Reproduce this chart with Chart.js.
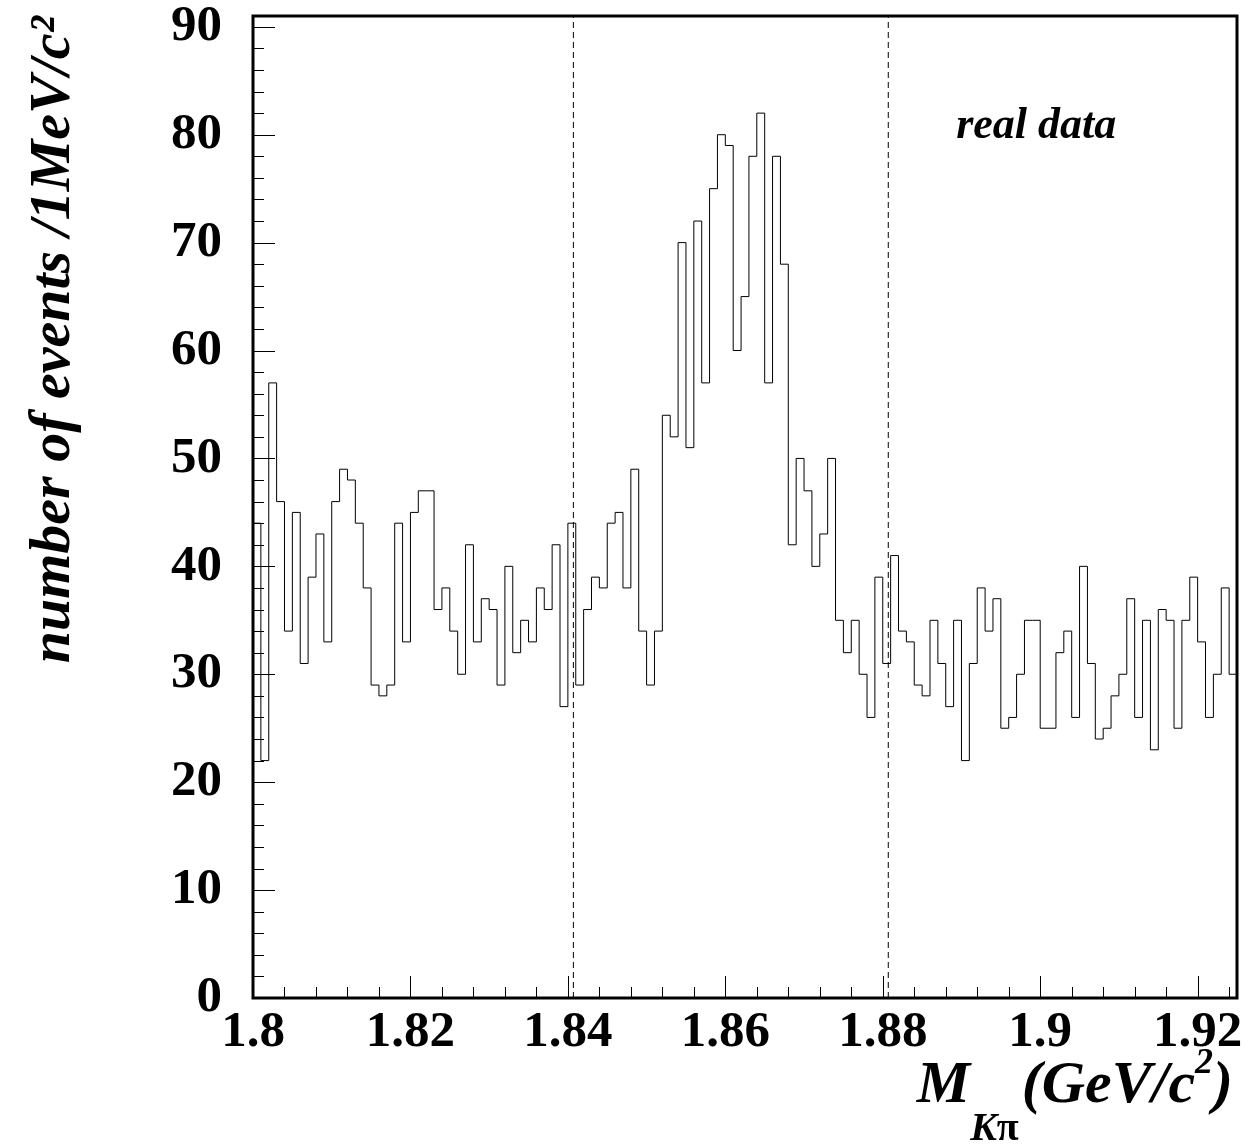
<!DOCTYPE html>
<html>
<head>
<meta charset="utf-8">
<script src="https://cdn.jsdelivr.net/npm/chart.js@4.4.0/dist/chart.umd.min.js"></script>
<style>
  body { margin: 0; background: #fff; }
</style>
</head>
<body>
<canvas id="histo" width="1257" height="1146"></canvas>
<script>
// M(K pi) histogram, 1 MeV bins starting at 1.800 GeV
var binLow = 1.8;
var binWidth = 0.001;
var counts = [
  44, 22, 57, 46, 34, 45, 31, 39, 43, 33,
  46, 49, 48, 44, 38, 29, 28, 29, 44, 33,
  45, 47, 47, 36, 38, 34, 30, 42, 33, 37,
  36, 29, 40, 32, 35, 33, 38, 36, 42, 27,
  44, 29, 36, 39, 38, 44, 45, 38, 49, 34,
  29, 34, 54, 52, 70, 51, 72, 57, 75, 80,
  79, 60, 65, 78, 82, 57, 78, 68, 42, 50,
  47, 40, 43, 50, 35, 32, 35, 30, 26, 39,
  31, 41, 34, 33, 29, 28, 35, 31, 27, 35,
  22, 31, 38, 34, 37, 25, 26, 30, 35, 35,
  25, 25, 32, 34, 26, 40, 31, 24, 25, 28,
  30, 37, 26, 35, 23, 36, 35, 25, 35, 39,
  33, 26, 30, 38, 30
];
// signal window (dashed lines)
var cutLines = [1.8407, 1.8807];

var xMin = 1.8, xMax = 1.925;
var yMin = 0, yMax = 91;
var xTickValues = [1.8, 1.82, 1.84, 1.86, 1.88, 1.9, 1.92];
var xTickLabels = ['1.8', '1.82', '1.84', '1.86', '1.88', '1.9', '1.92'];
var yTickValues = [0, 10, 20, 30, 40, 50, 60, 70, 80, 90];
var yTickLabels = ['0', '10', '20', '30', '40', '50', '60', '70', '80', '90'];
var xMinorStep = 0.004;
var yMinorStep = 2;

var yTitle = 'number of events /1MeV/c\u00B2';
var textoDatos = 'real data';
var textoDatosPos = {x: 1.8995, y: 79.7};

var serif = '"Liberation Serif", "Times New Roman", serif';
function fuente(size, italic) {
  return (italic ? 'italic ' : '') + 'bold ' + size + 'px ' + serif;
}

// histogram points (step before: value holds until next edge)
var puntos = [];
for (var i = 0; i < counts.length; i++) {
  puntos.push({x: binLow + i * binWidth, y: counts[i]});
}
puntos.push({x: binLow + counts.length * binWidth, y: counts[counts.length - 1]});

var datasets = [];
cutLines.forEach(function (c) {
  datasets.push({
    data: [{x: c, y: yMin}, {x: c, y: yMax}],
    borderColor: '#000',
    borderWidth: 1,
    borderDash: [6, 4],
    pointRadius: 0,
    fill: false
  });
});
datasets.push({
  data: puntos,
  stepped: 'before',
  borderColor: '#000',
  borderWidth: 1,
  pointRadius: 0,
  fill: false
});

// frame, inside ticks and extra texts (ROOT style)
var marco = {
  id: 'marco',
  afterDraw: function (chart) {
    var ctx = chart.ctx;
    var a = chart.chartArea;
    var sx = chart.scales.x, sy = chart.scales.y;
    ctx.save();
    ctx.strokeStyle = '#000';
    ctx.lineWidth = 1;
    ctx.beginPath();
    var k, v, p, len;
    for (k = 0; (v = yMin + k * yMinorStep) <= yMax; k++) {
      p = Math.round(sy.getPixelForValue(v)) + 0.5;
      len = (k % 5 === 0) ? 22 : 11;
      ctx.moveTo(a.left, p);
      ctx.lineTo(a.left + len, p);
    }
    for (k = 0; (v = xMin + k * xMinorStep) <= xMax + 1e-9; k++) {
      p = Math.round(sx.getPixelForValue(v)) + 0.5;
      len = (k % 5 === 0) ? 22 : 11;
      ctx.moveTo(p, a.bottom);
      ctx.lineTo(p, a.bottom - len);
    }
    ctx.stroke();

    ctx.lineWidth = 3;
    ctx.strokeRect(a.left, a.top, a.right - a.left, a.bottom - a.top);

    // "real data"
    ctx.fillStyle = '#000';
    ctx.font = fuente(44, true);
    ctx.textAlign = 'center';
    ctx.textBaseline = 'alphabetic';
    ctx.fillText(textoDatos, sx.getPixelForValue(textoDatosPos.x), sy.getPixelForValue(textoDatosPos.y));

    // x title: M_{K pi} (GeV/c^2)
    var partes = [
      {t: 'M', f: fuente(60, true), dy: 104, gap: 0},
      {t: 'K', f: fuente(40, true), dy: 142, gap: 0},
      {t: '\u03C0', f: fuente(40, false), dy: 142, gap: 3},
      {t: '(GeV/c', f: fuente(60, true), dy: 104, gap: 0},
      {t: '2', f: fuente(36, true), dy: 75, gap: 0},
      {t: ')', f: fuente(60, true), dy: 104, gap: 0}
    ];
    var total = 0;
    partes.forEach(function (pt) {
      ctx.font = pt.f;
      pt.w = ctx.measureText(pt.t).width + pt.gap;
      total += pt.w;
    });
    var x0 = a.right - 4 - total;
    ctx.textAlign = 'left';
    partes.forEach(function (pt) {
      ctx.font = pt.f;
      ctx.fillText(pt.t, x0, a.bottom + pt.dy);
      x0 += pt.w;
    });
    ctx.restore();
  }
};

new Chart(document.getElementById('histo'), {
  type: 'line',
  data: {datasets: datasets},
  options: {
    responsive: false,
    animation: false,
    devicePixelRatio: 1,
    layout: {padding: {left: 0, top: 16, right: 20, bottom: 0}},
    plugins: {legend: {display: false}, tooltip: {enabled: false}},
    scales: {
      x: {
        type: 'linear',
        min: xMin,
        max: xMax,
        grid: {display: false, drawTicks: false},
        border: {display: false},
        afterBuildTicks: function (axis) {
          axis.ticks = xTickValues.map(function (v) { return {value: v}; });
        },
        afterFit: function (axis) {
          axis.height = 148;
          axis.paddingLeft = 0; axis.paddingRight = 0;
          axis.paddingTop = 0; axis.paddingBottom = 0;
        },
        ticks: {
          autoSkip: false,
          maxRotation: 0,
          padding: 4,
          color: '#000',
          font: {family: serif, size: 51, weight: 'bold'},
          callback: function (value, index) { return xTickLabels[index]; }
        }
      },
      y: {
        min: yMin,
        max: yMax,
        grid: {display: false, drawTicks: false},
        border: {display: false},
        afterBuildTicks: function (axis) {
          axis.ticks = yTickValues.map(function (v) { return {value: v}; });
        },
        afterFit: function (axis) {
          axis.width = 253;
          axis.paddingLeft = 0; axis.paddingRight = 0;
          axis.paddingTop = 0; axis.paddingBottom = 0;
        },
        title: {
          display: true,
          text: yTitle,
          align: 'end',
          color: '#000',
          padding: {top: 19, bottom: 0},
          font: {family: serif, size: 58, style: 'italic', weight: 'bold'}
        },
        ticks: {
          padding: 31,
          color: '#000',
          font: {family: serif, size: 51, weight: 'bold'},
          callback: function (value, index) { return yTickLabels[index]; }
        }
      }
    }
  },
  plugins: [marco]
});
</script>
</body>
</html>
